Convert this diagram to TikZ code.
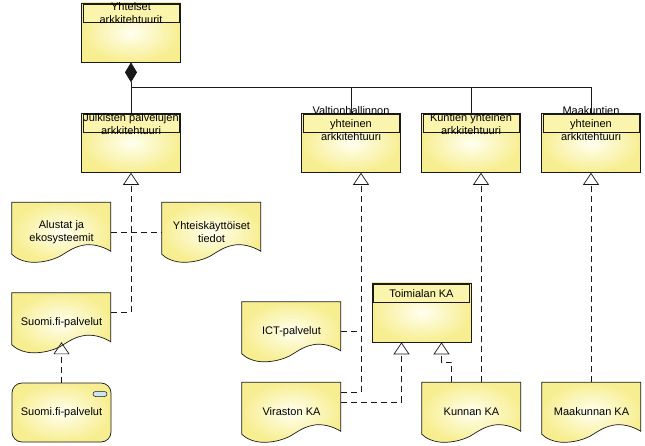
\documentclass[tikz,border=0pt]{standalone}
\usepackage{fontspec}
\setmainfont{Liberation Sans}
\usetikzlibrary{arrows.meta,calc}
\pgfdeclarelayer{background}
\pgfsetlayers{background,main}
\definecolor{yout}{RGB}{247,238,145}
\definecolor{yin}{RGB}{255,255,240}
\definecolor{ybar}{RGB}{250,244,172}
\definecolor{pillc}{RGB}{205,228,245}
\definecolor{ln}{RGB}{25,25,25}
\tikzset{
 txt/.style={font=\fontsize{11}{13}\selectfont, align=center, inner sep=0pt, text=black},
 elem/.style={txt, draw=ln, line width=0.7pt, inner color=yin, outer color=yout, minimum width=99pt, minimum height=59pt},
 bar/.style={draw=ln, line width=0.6pt, fill=ybar, minimum width=96pt, minimum height=18pt, inner sep=0pt},
 docbox/.style={txt, minimum width=99pt, minimum height=59pt},
 docshape/.style={draw=ln, line width=0.7pt, inner color=yin, outer color=yout},
 conn/.style={draw=ln, line width=0.7pt},
 real/.style={conn, dash pattern=on 6pt off 4pt, -{Triangle[open, length=12pt, width=16pt, line width=0.7pt]}},
 assoc/.style={conn, dash pattern=on 6pt off 4pt},
 pill/.style={draw=ln, line width=0.5pt, fill=pillc, rounded corners=2.5pt, minimum width=14pt, minimum height=5pt, inner sep=0pt},
}
\newcommand\mydocshape[1]{%
 \begin{scope}[shift={(#1.north west)}]
  \path[docshape] (0,0) -- (99,0) -- (99,49)
   .. controls (91,44) and (80,41) .. (71,43)
   .. controls (61,45) and (55,50) .. (48,54)
   .. controls (40,58) and (31,60) .. (22,60)
   .. controls (12,60) and (4,56) .. (0,52) -- cycle;
 \end{scope}}
\begin{document}
\begin{tikzpicture}[x=1pt,y=-1pt]
\useasboundingbox (0,0) rectangle (645,446);
% architecture boxes
\node[elem] (yht) at (131,32.5) {};
\node[bar] (yhtB) at (131,13.5) {};
\node[txt] (yhtT) at (131,13.5) {Yhteiset\\arkkitehtuurit};
\node[elem] (jul) at (131,143) {};
\node[bar] (julB) at (131,123.5) {};
\node[txt] (julT) at (131,124) {Julkisten palvelujen\\arkkitehtuuri};
\node[elem] (val) at (351,143) {};
\node[bar] (valB) at (351,123.5) {};
\node[txt] (valT) at (351,124) {Valtionhallinnon\\yhteinen\\arkkitehtuuri};
\node[elem] (kun) at (471,143) {};
\node[bar] (kunB) at (471,123.5) {};
\node[txt] (kunT) at (471,124) {Kuntien yhteinen\\arkkitehtuuri};
\node[elem] (maa) at (591,143) {};
\node[bar] (maaB) at (591,123.5) {};
\node[txt] (maaT) at (591,124) {Maakuntien\\yhteinen\\arkkitehtuuri};
\node[elem] (toi) at (421.5,312.5) {};
\node[bar] (toiB) at (421.5,293.5) {};
\node[txt] (toiT) at (421.5,293.5) {Toimialan KA};
% documents
\node[docbox] (alu) at (61.5,232) {Alustat ja\\ekosysteemit};
\node[docbox] (yti) at (211.5,232) {Yhteiskäyttöiset\\tiedot};
\node[docbox] (sfd) at (61.5,322.5) {Suomi.fi-palvelut};
\node[docbox] (ict) at (291.5,331.5) {ICT-palvelut};
\node[docbox] (vir) at (291.5,412) {Viraston KA};
\node[docbox] (kka) at (471.5,412) {Kunnan KA};
\node[docbox] (mka) at (591.5,412) {Maakunnan KA};
% service
\node[elem, rounded corners=10pt] (sfs) at (61.5,412.5) {Suomi.fi-palvelut};
\node[pill] (sfsI) at (100,394) {};
\begin{pgfonlayer}{background}
 \fill[white] (0,0) rectangle (645,446);
 \mydocshape{alu}
 \mydocshape{yti}
 \mydocshape{sfd}
 \mydocshape{ict}
 \mydocshape{vir}
 \mydocshape{kka}
 \mydocshape{mka}
\end{pgfonlayer}
% composition
\coordinate (jn) at (131,87);
\draw[conn, {Diamond[length=20pt, width=12pt]}-] (yht.south) -- (jul.north);
\draw[conn] (jn) -| (val.north);
\draw[conn] (jn) -| (kun.north);
\draw[conn] (jn) -| (maa.north);
% realizations and associations
\draw[assoc] (alu.east) -- (yti.west);
\draw[real] ([yshift=10.5pt]sfd.east) -| (jul.south);
\draw[real] (sfs.north) -- ([yshift=10pt]sfd.south);
\coordinate (vr) at ([xshift=10pt]val.south);
\draw[real] ([yshift=20pt]vir.east) -| (vr);
\draw[assoc] (ict.east) -- (ict.east -| vr);
\coordinate (t1) at ([xshift=-20pt]toi.south);
\coordinate (t2) at ([xshift=20pt]toi.south);
\draw[real] ([yshift=10pt]vir.east) -| (t1);
\draw[real] ([xshift=-20pt]kka.north) -- ++(0,-20) -| (t2);
\coordinate (kr) at ([xshift=10pt]kun.south);
\draw[real] (kka.north -| kr) -- (kr);
\draw[real] (mka.north -| maa.south) -- (maa.south);
\end{tikzpicture}
\end{document}
